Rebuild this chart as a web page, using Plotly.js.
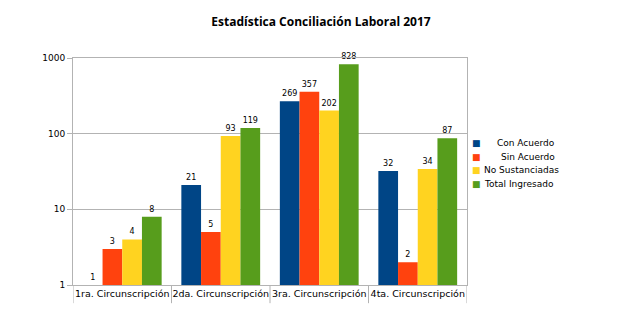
<!DOCTYPE html>
<html>
<head>
<meta charset="utf-8">
<script src="https://cdn.plot.ly/plotly-3.0.1.min.js"></script>
<style>
  body { margin: 0; background: #fff; }
  #grafica { width: 642px; height: 315px; }
</style>
</head>
<body>
<div id="grafica"></div>
<script>
// datos
const categorias = ['1ra. Circunscripción', '2da. Circunscripción', '3ra. Circunscripción', '4ta. Circunscripción'];
const conAcuerdo = [1, 21, 269, 32];
const sinAcuerdo = [3, 5, 357, 2];
const noSustanciadas = [4, 93, 202, 34];
const totalIngresado = [8, 119, 828, 87];
const nombres = ['Con Acuerdo', 'Sin Acuerdo', 'No Sustanciadas', 'Total Ingresado'];
const yTicks = [1, 10, 100, 1000];

const colores = ['#004586', '#ff420e', '#ffd320', '#579d1c'];
const series = [conAcuerdo, sinAcuerdo, noSustanciadas, totalIngresado];

const data = series.map((valores, i) => ({
    type: 'bar',
    x: categorias,
    y: valores,
    name: nombres[i],
    marker: { color: colores[i] },
    text: valores.map(String),
    textposition: 'outside',
    textfont: { family: 'DejaVu Sans', size: 8, color: '#000' },
    cliponaxis: false,
    showlegend: false,
    hoverinfo: 'none'
}));

// lineas verticales que separan las etiquetas de categoria
const separadores = [-0.5, 0.5, 1.5, 2.5, 3.5].map(x => ({
    type: 'line', xref: 'x', yref: 'paper',
    x0: x, x1: x, y0: -0.08, y1: 0,
    line: { color: '#b3b3b3', width: 1 }
}));

// leyenda hecha a mano (cuadritos pequeños y poco espacio entre filas)
const leyenda = [];
nombres.forEach((nombre, i) => {
    const y = 0.626 - i * 0.06;
    leyenda.push({
        xref: 'paper', yref: 'paper', x: 1.0075, y: y,
        xanchor: 'left', yanchor: 'middle', showarrow: false,
        text: '■', font: { family: 'DejaVu Sans', size: 9, color: colores[i] }
    });
    const derecha = i < 2;
    leyenda.push({
        xref: 'paper', yref: 'paper',
        x: derecha ? 1.229 : 1.038, y: y,
        xanchor: derecha ? 'right' : 'left', yanchor: 'middle', showarrow: false,
        text: nombre, font: { family: 'DejaVu Sans', size: 9, color: '#000' }
    });
});

const layout = {
    width: 642,
    height: 315,
    margin: { l: 73, r: 175, t: 58, b: 30 },
    paper_bgcolor: '#fff',
    plot_bgcolor: '#fff',
    font: { family: 'DejaVu Sans', size: 9, color: '#000' },
    title: {
        text: '<b>Estadística Conciliación Laboral 2017</b>',
        font: { family: 'Open Sans', size: 12, color: '#000' },
        x: 0.5, xanchor: 'center', y: 0.93, yanchor: 'middle'
    },
    barmode: 'group',
    bargap: 0.2,
    bargroupgap: 0,
    xaxis: {
        type: 'category',
        showline: true, linecolor: '#b3b3b3', mirror: true,
        ticks: '', tickfont: { family: 'DejaVu Sans', size: 9.5 },
        range: [-0.5, 3.5]
    },
    yaxis: {
        type: 'log',
        range: [0, 3],
        tickvals: yTicks,
        ticktext: yTicks.map(String),
        showline: true, linecolor: '#b3b3b3', mirror: true,
        gridcolor: '#b3b3b3',
        ticks: 'outside', ticklen: 5, tickcolor: '#b3b3b3',
        tickfont: { family: 'DejaVu Sans', size: 9 }
    },
    shapes: separadores,
    annotations: leyenda,
    showlegend: false
};

Plotly.newPlot('grafica', data, layout, { staticPlot: true });
</script>
</body>
</html>
